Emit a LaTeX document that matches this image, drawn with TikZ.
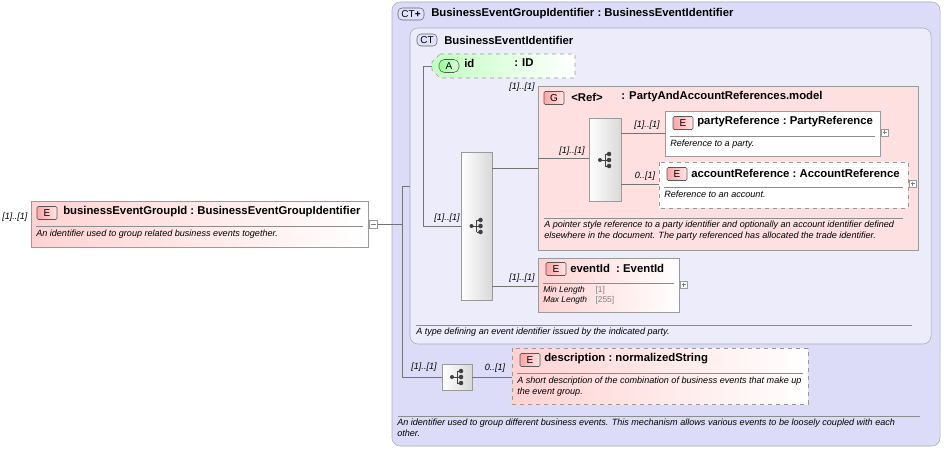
\documentclass[tikz,border=0pt]{standalone}
\usepackage{fontspec}
\setmainfont{Liberation Sans}
\usetikzlibrary{shapes.geometric,calc}
\definecolor{ctfill}{HTML}{DCDCF8}
\definecolor{ctline}{HTML}{A8A8C0}
\definecolor{elpink}{HTML}{FFD2D2}
\definecolor{grfill}{HTML}{FFE0E0}
\definecolor{greenf}{HTML}{D8FFD8}
\definecolor{gline}{HTML}{9A9A9A}
\tikzset{
 title/.style={font=\fontsize{8.5}{9}\selectfont\bfseries, anchor=west, inner sep=0pt},
 note/.style={font=\fontsize{6.8}{8}\selectfont\itshape, anchor=north west, inner sep=0pt, align=left},
 card/.style={font=\fontsize{6.8}{8}\selectfont\itshape, anchor=south, inner sep=0pt},
 badge/.style={draw=gray!70!black, rounded corners=1pt, left color=red!35, right color=elpink!60, minimum width=20*0.75pt, minimum height=13*0.75pt, inner sep=0pt, font=\fontsize{7.5}{8}\selectfont},
 ebox/.style={draw=gline, left color=elpink, right color=white},
 seqbox/.style={draw=gline, left color=white, right color=black!15},
 con/.style={draw=black!55, line width=0.5pt},
 exp/.style={draw=gline, fill=white, line width=0.4pt},
}
\newcommand{\seqicon}[1]{%
 \fill[black!75] ($(#1)+(-5,0)$) circle[radius=1.5pt];
 \draw[black!75,line width=0.7pt] ($(#1)+(-5,0)$) -- ($(#1)+(0,0)$) ($(#1)+(0,-6)$) -- ($(#1)+(0,6)$) ($(#1)+(0,-6)$) -- ($(#1)+(4,-6)$) ($(#1)+(0,6)$) -- ($(#1)+(4,6)$) ($(#1)+(0,0)$) -- ($(#1)+(4,0)$);
 \fill[black!75] ($(#1)+(4,-6)$) circle[radius=1.7pt] ($(#1)+(4,0)$) circle[radius=1.7pt] ($(#1)+(4,6)$) circle[radius=1.7pt];}
\begin{document}
\begin{tikzpicture}[x=0.75pt,y=-0.75pt]
\useasboundingbox (0,0) rectangle (944,449);
% outer CT
\draw[ctline, fill=ctfill, rounded corners=6] (392,2) rectangle (940,446);
\node[draw=black!60, rounded corners=3pt, fill=ctfill!70!blue!30, minimum width=26*0.75pt, minimum height=12*0.75pt, inner sep=0pt, font=\fontsize{7.5}{8}\selectfont] (ctb1) at (411,14) {CT\textbf{+}};
\node[title] (t1) at (431,14) {BusinessEventGroupIdentifier\ :\ BusinessEventIdentifier};
% inner CT
\draw[ctline, fill=ctfill!55!white, rounded corners=6] (410,28) rectangle (931,344);
\node[draw=black!60, rounded corners=3pt, fill=ctfill!70!blue!30, minimum width=20*0.75pt, minimum height=12*0.75pt, inner sep=0pt, font=\fontsize{7.5}{8}\selectfont] (ctb2) at (427,40) {CT};
\node[title] (t2) at (444,40) {BusinessEventIdentifier};
\draw[black!45] (416,325) -- (912,325);
\node[note] (n2) at (416,328) {A type defining an event identifier issued by the indicated party.};
\draw[black!45] (398,416) -- (920,416);
\node[note] (n1) at (397,419) {An identifier used to group different business events. This mechanism allows various events to be loosely coupled with each\\other.};
% id attribute
\draw[gline, dashed, left color=greenf!70!green!60, right color=white] (440,54) -- (575,54) -- (575,78) -- (440,78) -- (432,70) -- (432,62) -- cycle;
\node[coordinate] (idl) at (432,66) {};
\node[draw=gray!70!black, rounded corners=4pt, left color=green!40, right color=greenf, minimum width=20*0.75pt, minimum height=13*0.75pt, inner sep=0pt, font=\fontsize{7.5}{8}\selectfont] (ab) at (449,66) {A};
\node[title] (idt) at (464,63) {id};
\node[title] (idt2) at (514,63) {: ID};
% group
\draw[gline, fill=grfill] (538,86) rectangle (918,250);
\node[badge] (gb) at (554,98) {G};
\node[title] at (571,97) {<Ref>};
\node[title] at (621,97) {: PartyAndAccountReferences.model};
\draw[black!45] (544,218) -- (903,218);
\node[note] at (544,221) {A pointer style reference to a party identifier and optionally an account identifier defined\\elsewhere in the document. The party referenced has allocated the trade identifier.};
\node[coordinate] (grl) at (538,158) {};
% group sequence
\node[seqbox, minimum width=32*0.75pt, minimum height=83*0.75pt, inner sep=0pt] (gs) at (605,160) {};
\seqicon{gs.center}
% partyReference
\draw[gline, fill=white] (665,111) rectangle (880,156);
\node[badge] at (683,123) {E};
\node[title] at (697,122) {partyReference\ :\ PartyReference};
\draw[black!45] (670,136) -- (875,136);
\node[note] at (670,140) {Reference to a party.};
\node[coordinate] (pr) at (665,133) {};
\draw[exp] (881,129) rectangle (888,136); \draw[black!50] (882.5,132.5)--(886.5,132.5) (884.5,130.5)--(884.5,134.5);
% accountReference
\draw[gline, dashed, fill=white] (659,162) rectangle (908,208);
\node[badge] at (677,174) {E};
\node[title] at (691,173) {accountReference\ :\ AccountReference};
\draw[black!45] (664,187) -- (903,187);
\node[note] at (664,191) {Reference to an account.};
\node[coordinate] (ar) at (659,184) {};
\draw[exp] (909,180) rectangle (916,187); \draw[black!50] (910.5,183.5)--(914.5,183.5) (912.5,181.5)--(912.5,185.5);
% big sequence
\node[seqbox, minimum width=31*0.75pt, minimum height=148*0.75pt, inner sep=0pt] (bs) at (476.5,226) {};
\seqicon{bs.center}
% eventId
\draw[gline, ebox] (538,258) rectangle (679,312);
\node[badge] at (556,269) {E};
\node[title] at (570,268) {eventId\ \ :\ EventId};
\draw[black!45] (543,283) -- (674,283);
\node[note, font=\fontsize{6.3}{7.5}\selectfont] at (543,286) {\textit{Min Length}\quad\ \textcolor{black!50}{\upshape[1]}\\\textit{Max Length}\quad\textcolor{black!50}{\upshape[255]}};
\node[coordinate] (ei) at (538,286) {};
\draw[exp] (680,281) rectangle (687,288); \draw[black!50] (681.5,284.5)--(685.5,284.5) (683.5,282.5)--(683.5,286.5);
% small sequence
\node[seqbox, minimum width=30*0.75pt, minimum height=26*0.75pt, inner sep=0pt] (ss) at (457,377) {};
\seqicon{ss.center}
% description
\draw[gline, dashed, ebox] (512,348) rectangle (808,404);
\node[badge] at (530,360) {E};
\node[title] at (544,359) {description\ :\ normalizedString};
\draw[black!45] (517,373) -- (803,373);
\node[note] at (517,377) {A short description of the combination of business events that make up\\the event group.};
\node[coordinate] (de) at (512,377) {};
% main element
\draw[gline, ebox] (31,201) rectangle (368,247);
\node[badge] at (47,213) {E};
\node[title] at (63,212) {businessEventGroupId\ :\ BusinessEventGroupIdentifier};
\draw[black!45] (36,226) -- (363,226);
\node[note] at (36,230) {An identifier used to group related business events together.};
\node[card, anchor=west] at (2,217) {[1]..[1]};
\node[exp, minimum width=8*0.75pt, minimum height=8*0.75pt, inner sep=0pt] (mx) at (373,224) {};
\draw[black!50] (370.5,224)--(375.5,224);
% connectors
\coordinate (j1) at (402,224);
\coordinate (il) at (410,186);
\draw[con] (mx.east) -- (j1);
\draw[con] (402,186) -- (402,377) -- (ss.west);
\draw[con] (402,186) -- (il);
\draw[con] (423,66) -- (423,226) -- (bs.west);
\draw[con] (423,66) -- (idl);
\draw[con] (ss.east) -- (de);
\draw[con] (bs.east |- 0,168) -- (538,168);
\draw[con] (bs.east |- ei) -- (ei);
\draw[con] (grl) -- (gs.west |- grl);
\draw[con] (gs.east |- pr) -- (pr);
\draw[con] (gs.east |- ar) -- (ar);
% labels
\node[card] at (447,223) {[1]..[1]};
\node[card] at (424,372) {[1]..[1]};
\node[card] at (495,373) {0..[1]};
\node[card] at (522,92) {[1]..[1]};
\node[card] at (522,283) {[1]..[1]};
\node[card] at (572,156) {[1]..[1]};
\node[card] at (647,130) {[1]..[1]};
\node[card] at (645,181) {0..[1]};
\end{tikzpicture}
\end{document}
